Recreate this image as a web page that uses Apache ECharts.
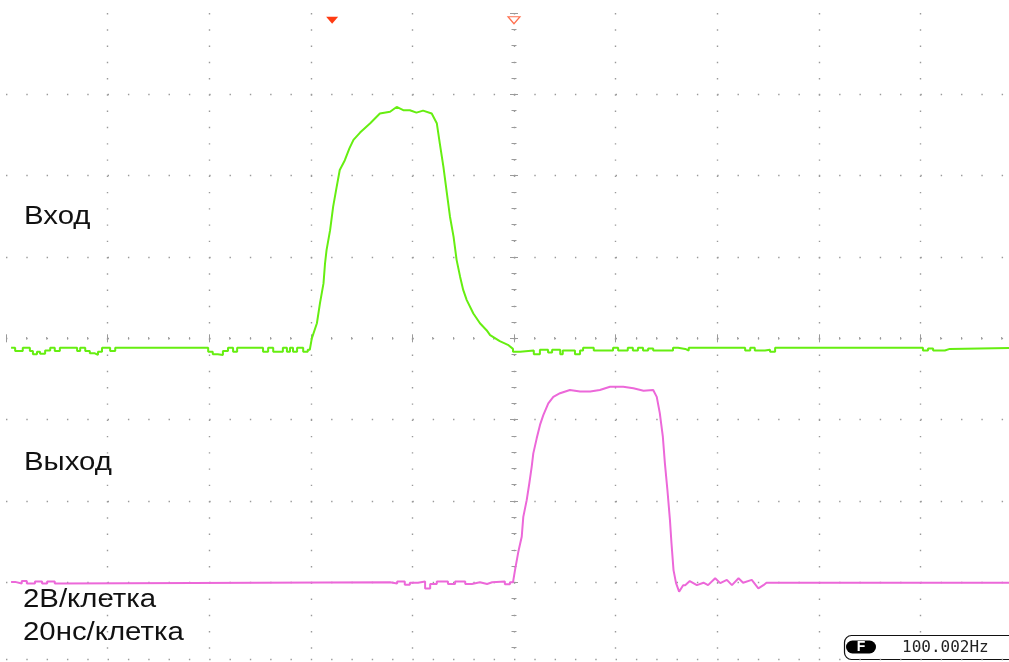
<!DOCTYPE html>
<html>
<head>
<meta charset="utf-8">
<style>
  html, body { margin: 0; padding: 0; background: #ffffff; }
  #chart { width: 1009px; height: 662px; }
</style>
<script src="https://cdn.jsdelivr.net/npm/echarts@6/dist/echarts.min.js"></script>
</head>
<body>
<div id="chart"></div>
<script>
// Time base: 20 ns per division, 10 divisions, centred on 0 ns.
const timeRange = [-100, 100];
const timePerDiv = 20;
// Vertical scale: 2 V per division, 8 divisions, centred on 0 V.
const voltRange = [-8, 8];
const voltPerDiv = 2;

// Channel 1 (input) samples: [time ns, volts]
const inputTrace = [
  [-99.0,-0.23],[-98.2,-0.23],[-98.2,-0.31],[-96.7,-0.31],[-96.7,-0.23],[-95.3,-0.23],
  [-95.3,-0.31],[-94.7,-0.31],[-94.7,-0.39],[-93.9,-0.39],[-93.9,-0.33],[-93.3,-0.33],
  [-93.3,-0.38],[-92.3,-0.38],[-92.3,-0.30],[-91.3,-0.30],[-91.3,-0.23],[-90.4,-0.23],
  [-90.4,-0.31],[-89.4,-0.31],[-89.4,-0.23],[-86.0,-0.23],[-86.0,-0.31],[-85.4,-0.31],
  [-85.4,-0.23],[-84.4,-0.23],[-84.4,-0.31],[-83.5,-0.31],[-83.5,-0.37],[-82.5,-0.37],
  [-82.5,-0.41],[-81.9,-0.41],[-81.9,-0.33],[-81.1,-0.33],[-81.1,-0.23],[-79.5,-0.23],
  [-79.5,-0.31],[-78.5,-0.31],[-78.5,-0.23],[-60.2,-0.23],[-60.2,-0.33],[-59.3,-0.33],
  [-59.3,-0.39],[-58.3,-0.39],[-58.3,-0.41],[-57.3,-0.41],[-57.3,-0.31],[-56.3,-0.31],
  [-56.3,-0.23],[-55.3,-0.23],[-55.3,-0.33],[-54.5,-0.33],[-54.5,-0.23],[-49.4,-0.23],
  [-49.4,-0.33],[-48.4,-0.33],[-48.4,-0.23],[-47.4,-0.23],[-47.4,-0.33],[-45.5,-0.33],
  [-45.5,-0.23],[-44.7,-0.23],[-44.7,-0.33],[-44.1,-0.33],[-44.1,-0.23],[-43.5,-0.23],
  [-43.5,-0.33],[-42.7,-0.33],[-42.7,-0.23],[-41.5,-0.23],[-41.5,-0.33],[-40.6,-0.33],
  [-40.6,-0.28],[-40.2,-0.28],
  [-39.8,0.00],[-38.8,0.37],[-38.2,0.86],[-37.5,1.35],[-37.2,1.84],[-36.9,2.17],
  [-36.2,2.66],[-35.6,3.24],[-34.9,3.73],[-34.3,4.14],[-33.3,4.38],[-32.4,4.67],
  [-31.6,4.88],[-30.3,5.06],[-28.3,5.29],[-26.4,5.53],[-24.4,5.57],[-23.1,5.69],
  [-21.8,5.61],[-20.5,5.61],[-19.2,5.55],[-17.9,5.60],[-16.2,5.53],[-15.2,5.29],
  [-14.6,4.79],[-13.9,4.22],[-13.3,3.65],[-12.6,2.99],[-11.9,2.50],[-11.3,1.93],
  [-10.6,1.51],[-10.0,1.19],[-9.3,0.94],[-8.0,0.61],[-6.7,0.37],[-5.4,0.20],
  [-4.7,0.08],[-2.8,-0.07],[-1.2,-0.16],[-0.2,-0.26],
  [-0.2,-0.33],[1.2,-0.33],[1.2,-0.30],[3.9,-0.30],[3.9,-0.39],[5.1,-0.39],
  [5.1,-0.28],[6.7,-0.28],[6.7,-0.35],[7.5,-0.35],[7.5,-0.28],[9.1,-0.28],
  [9.1,-0.39],[9.6,-0.39],[9.6,-0.30],[12.0,-0.30],[12.0,-0.39],[13.0,-0.39],
  [13.0,-0.30],[13.6,-0.30],[13.6,-0.23],[15.7,-0.23],[15.7,-0.30],[19.5,-0.30],
  [19.5,-0.23],[20.5,-0.23],[20.5,-0.30],[22.4,-0.30],[22.4,-0.23],[23.4,-0.23],
  [23.4,-0.30],[24.4,-0.30],[24.4,-0.23],[25.4,-0.23],[25.4,-0.30],[26.4,-0.30],
  [26.4,-0.25],[27.4,-0.25],[27.4,-0.30],[31.3,-0.30],[31.3,-0.23],[32.3,-0.23],
  [32.3,-0.26],[33.7,-0.26],[33.7,-0.30],[34.4,-0.30],[34.4,-0.23],[45.5,-0.23],
  [45.5,-0.30],[46.5,-0.30],[46.5,-0.23],[47.4,-0.23],[47.4,-0.30],[49.4,-0.30],
  [49.4,-0.28],[50.4,-0.28],[50.4,-0.33],[51.4,-0.33],[51.4,-0.23],[80.5,-0.23],
  [80.5,-0.30],[81.5,-0.30],[81.5,-0.25],[82.5,-0.25],[82.5,-0.30],[84.8,-0.30],
  [84.8,-0.26],[85.8,-0.26],[85.8,-0.23],[100,-0.23]
];

// Channel 2 (output) samples: [time ns, volts]
const outputTrace = [
  [-99.0,-5.99],[-98.2,-5.99],[-98.2,-6.03],[-96.9,-6.03],[-96.9,-5.97],[-95.9,-5.97],
  [-95.9,-6.03],[-94.3,-6.03],[-94.3,-5.98],[-92.9,-5.98],[-92.9,-6.03],[-91.9,-6.03],
  [-91.9,-5.98],[-90.4,-5.98],[-90.4,-6.03],[-89.4,-6.03],[-89.4,-6.00],[-24.4,-6.00],
  [-24.4,-6.03],[-23.0,-6.03],[-23.0,-5.98],[-21.5,-5.98],[-21.5,-6.06],[-20.5,-6.06],
  [-20.5,-6.01],[-18.9,-6.01],[-18.9,-5.98],[-17.5,-5.98],[-17.5,-6.15],[-16.5,-6.15],
  [-16.5,-6.04],[-15.2,-6.04],[-15.2,-5.98],[-13.0,-5.98],[-13.0,-6.04],[-11.6,-6.04],
  [-11.6,-5.98],[-9.6,-5.98],[-9.6,-6.04],[-8.3,-6.04],[-8.3,-6.00],[-6.7,-6.00],
  [-6.7,-6.04],[-5.3,-6.04],[-5.3,-6.00],[-4.3,-6.00],[-4.3,-5.98],[-1.8,-5.98],
  [-1.8,-6.05],[-0.8,-6.05],[-0.8,-6.00],[-0.2,-6.00],
  [0.2,-5.70],[0.85,-5.25],[1.52,-4.88],[1.83,-4.39],[2.5,-3.98],[3.01,-3.57],
  [3.48,-3.16],[3.8,-2.83],[4.47,-2.46],[5.12,-2.13],[5.77,-1.89],[6.75,-1.60],
  [7.74,-1.44],[9.06,-1.35],[11.0,-1.27],[13.0,-1.31],[15.0,-1.31],[16.9,-1.27],
  [18.9,-1.19],[21.5,-1.19],[23.5,-1.23],[25.5,-1.29],[27.4,-1.27],[28.1,-1.44],
  [28.7,-1.84],[29.3,-2.42],[29.7,-3.07],[30.2,-3.73],[30.7,-4.47],[31.0,-5.04],
  [31.4,-5.70],[31.9,-6.02],[32.5,-6.23],[33.3,-6.07],[33.7,-6.07],[34.6,-5.97],
  [36.0,-6.07],[37.3,-6.01],[38.2,-6.07],[39.6,-5.90],[40.6,-6.02],[41.9,-5.94],
  [42.9,-6.07],[44.2,-5.90],[45.1,-6.01],[46.8,-5.94],[48.1,-6.15],[49.1,-6.07],
  [49.7,-6.01],[100,-6.01]
];

// Trigger position marker and screen-centre marker along the top edge.
const triggerTime = -35.8;
const centreTime = 0;
const markerVolts = 7.82;

// Bottom edge of the visible graticule.
const bottomEdgeVolts = -7.88;

// On-screen annotations.
const channelLabels = ['Вход', 'Выход'];
const scaleLabels = ['2В/клетка', '20нс/клетка'];
const frequencyReadout = '100.002Hz';

const GRID_LEFT = 6, GRID_TOP = 13, DIV_W = 101.6, DIV_H = 81.33;
const MINOR = 5;
const dotColor = '#9a9a9a';
const dotH = [1.4, DIV_W / MINOR - 1.4];   // dots along horizontal lines
const dotV = [1.4, DIV_H / MINOR - 1.4];   // dots along vertical lines
const LABEL_FONT = '26px "Liberation Sans", Arial, sans-serif';
const LABEL_STRETCH = 1.13;

const chart = echarts.init(document.getElementById('chart'), null, { renderer: 'canvas' });

function helperAxis(base, pos, offset, inside, majorLen, minorLen) {
  return Object.assign({
    type: 'value', gridIndex: 0, position: pos, offset: offset,
    axisLine: { show: false, onZero: false },
    axisLabel: { show: false },
    splitLine: { show: false },
    axisTick: { show: true, inside: inside, length: majorLen, lineStyle: { color: dotColor, width: 1 } },
    minorTick: { show: true, splitNumber: MINOR, length: minorLen, lineStyle: { color: dotColor, width: 1 } }
  }, base);
}

function label(text, x, y) {
  return {
    type: 'text', x: x, y: y, scaleX: LABEL_STRETCH, originX: 0, originY: 0,
    style: { text: text, x: 0, y: 0, font: LABEL_FONT, fill: '#111', textVerticalAlign: 'middle' }
  };
}

const xBase = { min: timeRange[0], max: timeRange[1], interval: timePerDiv };
const yBase = { min: voltRange[0], max: voltRange[1], interval: voltPerDiv };
const centreRowOffset = -(DIV_H * 4);   // bottom axis moved up to the 0 V row
const centreColOffset = -(DIV_W * 5);   // left axis moved right to the 0 ns column

const option = {
  backgroundColor: '#ffffff',
  animation: false,
  grid: {
    left: GRID_LEFT, top: GRID_TOP, width: DIV_W * 10, height: DIV_H * 8,
    containLabel: false, outerBoundsMode: 'none', show: false
  },
  xAxis: [
    Object.assign({
      type: 'value', position: 'bottom',
      axisLine: { show: false, onZero: false }, axisLabel: { show: false }, axisTick: { show: false },
      splitLine: { show: true, showMinLine: false, lineStyle: { color: dotColor, width: 1.4, type: dotV } }
    }, xBase),
    helperAxis(xBase, 'bottom', centreRowOffset, false, 4, 1.2),
    helperAxis(xBase, 'bottom', centreRowOffset, true, 4, 1.2)
  ],
  yAxis: [
    Object.assign({
      type: 'value', position: 'left',
      axisLine: { show: false, onZero: false }, axisLabel: { show: false }, axisTick: { show: false },
      splitLine: { show: true, showMaxLine: false, showMinLine: false, lineStyle: { color: dotColor, width: 1.4, type: dotH } }
    }, yBase),
    helperAxis(yBase, 'left', centreColOffset, false, 4, 2.5),
    helperAxis(yBase, 'left', centreColOffset, true, 4, 2.5)
  ],
  series: [
    {
      name: 'Вход', type: 'line', data: inputTrace, xAxisIndex: 0, yAxisIndex: 0,
      showSymbol: false, symbol: 'none', silent: true,
      lineStyle: { color: '#66ee11', width: 2 },
      markPoint: {
        silent: true, label: { show: false },
        data: [
          { coord: [triggerTime, markerVolts], symbol: 'triangle', symbolRotate: 180, symbolSize: [12, 7],
            itemStyle: { color: '#ff3b12' } },
          { coord: [centreTime, markerVolts], symbol: 'triangle', symbolRotate: 180, symbolSize: [12, 7],
            itemStyle: { color: '#ffffff', borderColor: '#ff7050', borderWidth: 1.2 } }
        ]
      },
      markLine: {
        silent: true, symbol: 'none', label: { show: false },
        lineStyle: { color: dotColor, width: 1.4, type: dotH },
        data: [{ yAxis: bottomEdgeVolts }]
      }
    },
    {
      name: 'Выход', type: 'line', data: outputTrace, xAxisIndex: 0, yAxisIndex: 0,
      showSymbol: false, symbol: 'none', silent: true,
      lineStyle: { color: '#ec68d9', width: 2 }
    }
  ],
  graphic: [
    label(channelLabels[0], 24, 217),
    label(channelLabels[1], 24, 463),
    label(scaleLabels[0], 23, 600),
    label(scaleLabels[1], 23, 633),
    { type: 'rect', shape: { x: 844.5, y: 635.5, width: 190, height: 24, r: 7 }, style: { fill: '#ffffff', stroke: '#111', lineWidth: 1.2 } },
    { type: 'rect', shape: { x: 846, y: 640.5, width: 30, height: 13, r: 6.5 }, style: { fill: '#000000' } },
    { type: 'text', style: { text: 'F', x: 861, y: 647.5, font: 'bold 14px "Liberation Sans", Arial, sans-serif', fill: '#ffffff', textAlign: 'center', textVerticalAlign: 'middle' } },
    { type: 'text', style: { text: frequencyReadout, x: 902, y: 648, font: '16px "DejaVu Sans Mono", monospace', fill: '#222', textVerticalAlign: 'middle' } }
  ]
};

chart.setOption(option);
</script>
</body>
</html>
